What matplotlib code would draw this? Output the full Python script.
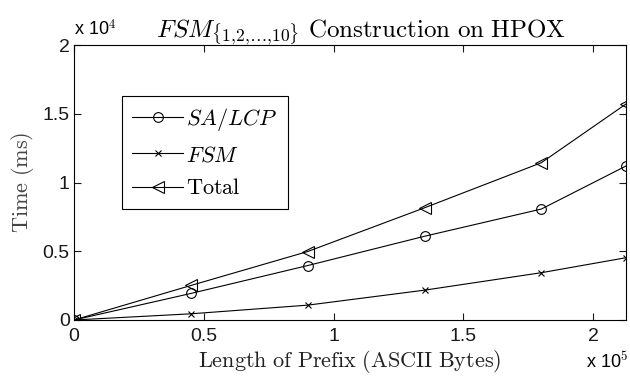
import matplotlib
matplotlib.use('Agg')
import matplotlib.pyplot as plt

plt.rcParams['mathtext.fontset'] = 'cm'
plt.rcParams['font.family'] = ['Liberation Sans', 'DejaVu Sans']

# prefix length (bytes) and times (ms)
prefix_len = [0, 45000, 90000, 135000, 180000, 212600]
sa_lcp = [0, 1930, 3960, 6090, 8070, 11200]
fsm = [0, 450, 1080, 2170, 3440, 4530]
total = [0, 2510, 4980, 8160, 11440, 15710]

x_ticks = [0, 50000, 100000, 150000, 200000]
x_labels = ['0', '0.5', '1', '1.5', '2']
y_ticks = [0, 5000, 10000, 15000, 20000]
y_labels = ['0', '0.5', '1', '1.5', '2']

fig = plt.figure(figsize=(6.3, 3.76), dpi=100)
ax = fig.add_axes([74 / 630, 1 - 320 / 376, 552 / 630, 275 / 376])

ax.plot(prefix_len, sa_lcp, 'k-', marker='o', mfc='none', ms=7, lw=0.8, mew=0.8,
        label=r'$SA/LCP$')
ax.plot(prefix_len, fsm, 'k-', marker='x', ms=4, lw=0.8, mew=0.8, label=r'$FSM$')
ax.plot(prefix_len, total, 'k-', marker='<', mfc='none', ms=8, lw=0.8, mew=0.8,
        label=r'$\mathrm{Total}$')

ax.set_xlim(0, prefix_len[-1])
ax.set_ylim(0, 20000)
ax.set_xticks(x_ticks)
ax.set_xticklabels(x_labels)
ax.set_yticks(y_ticks)
ax.set_yticklabels(y_labels)
ax.tick_params(direction='in', top=True, right=True, labelsize=14, length=5, width=0.8,
               colors='#1a1a1a')
ax.tick_params(axis='x', pad=6)
ax.tick_params(axis='y', pad=3)
for s in ax.spines.values():
    s.set_linewidth(0.8)

ax.set_xlabel(r'$\mathrm{Length\ of\ Prefix\ (ASCII\ Bytes)}$', fontsize=16, color='#222222', labelpad=2)
ax.set_ylabel(r'$\mathrm{Time\ (ms)}$', fontsize=16, color='#444444', labelpad=5)
ax.set_title(r'$FSM_{\{1{,}2{,}\ldots{,}10\}}\ \mathrm{Construction\ on\ HPOX}$', fontsize=18,
             pad=6, x=0.52)

# MATLAB-style exponent labels
ax.text(0.0, 1.02, r'x 10$^{4}$', transform=ax.transAxes, fontsize=13, ha='left', va='bottom')
ax.text(1.004, -0.15, r'x 10$^{5}$', transform=ax.transAxes, fontsize=13, ha='right', va='center')

leg = ax.legend(loc='upper left', bbox_to_anchor=(0.087, 0.815), fontsize=16,
                frameon=True, fancybox=False, edgecolor='black', framealpha=1,
                handlelength=2.3, handletextpad=0.15, labelspacing=0.55, borderpad=0.45,
                borderaxespad=0)
leg.get_frame().set_linewidth(0.8)

fig.savefig('out.png', dpi=100)
